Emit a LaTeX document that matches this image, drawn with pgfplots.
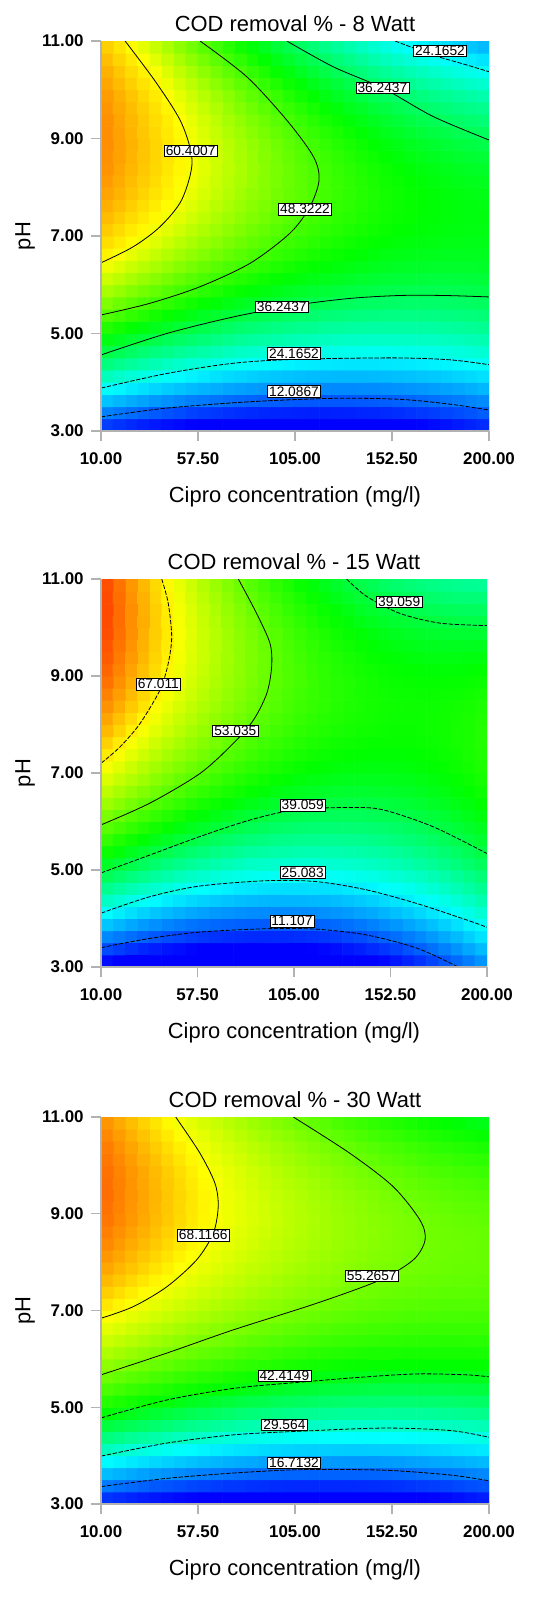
\documentclass[border=0pt]{standalone}
\usepackage{fontspec}
\setmainfont{Liberation Sans}
\usepackage{pgfplots}
\pgfplotsset{compat=1.18}
\usepgfplotslibrary{patchplots}
\usepackage{pgfplotstable}

% COD removal (%) estimated on a grid: x = Cipro (mg/l), p = pH, z = COD removal
\pgfplotstableread{
x p z
10 3 7.3
10 4 27.1
10 5 43.3
10 6 55.9
10 7 64.9
10 8 70.3
10 9 72.1
10 10 70.3
10 11 64.9
33.75 3 4.5
33.75 4 23.5
33.75 5 39.0
33.75 6 50.9
33.75 7 59.1
33.75 8 63.8
33.75 9 64.8
33.75 10 62.3
33.75 11 56.2
57.5 3 2.4
57.5 4 20.8
57.5 5 35.5
57.5 6 46.6
57.5 7 54.1
57.5 8 58.1
57.5 9 58.4
57.5 10 55.1
57.5 11 48.2
81.25 3 1.2
81.25 4 18.8
81.25 5 32.7
81.25 6 43.1
81.25 7 49.9
81.25 8 53.1
81.25 9 52.7
81.25 10 48.7
81.25 11 41.1
105 3 0.7
105 4 17.6
105 5 30.8
105 6 40.5
105 7 46.5
105 8 48.9
105 9 47.8
105 10 43.0
105 11 34.7
128.75 3 1.0
128.75 4 17.1
128.75 5 29.6
128.75 6 38.6
128.75 7 43.9
128.75 8 45.6
128.75 9 43.7
128.75 10 38.2
128.75 11 29.1
152.5 3 2.1
152.5 4 17.5
152.5 5 29.3
152.5 6 37.5
152.5 7 42.0
152.5 8 43.0
152.5 9 40.4
152.5 10 34.1
152.5 11 24.3
176.25 3 4.0
176.25 4 18.6
176.25 5 29.7
176.25 6 37.1
176.25 7 41.0
176.25 8 41.2
176.25 9 37.8
176.25 10 30.9
176.25 11 20.3
200 3 6.7
200 4 20.6
200 5 30.9
200 6 37.6
200 7 40.7
200 8 40.2
200 9 36.1
200 10 28.4
200 11 17.1
}\dataA

\pgfplotstableread{
x p z
10 3 3.8
10 4 23.4
10 5 40.2
10 6 54.1
10 7 65.2
10 8 73.4
10 9 78.8
10 10 81.4
10 11 81.1
33.75 3 0.3
33.75 4 18.9
33.75 5 34.7
33.75 6 47.7
33.75 7 57.8
33.75 8 65.1
33.75 9 69.5
33.75 10 71.1
33.75 11 69.9
57.5 3 -1.8
57.5 4 15.9
57.5 5 30.7
57.5 6 42.7
57.5 7 51.9
57.5 8 58.2
57.5 9 61.7
57.5 10 62.3
57.5 11 60.1
81.25 3 -2.5
81.25 4 14.3
81.25 5 28.1
81.25 6 39.2
81.25 7 47.4
81.25 8 52.8
81.25 9 55.3
81.25 10 55.0
81.25 11 51.8
105 3 -1.7
105 4 14.1
105 5 27.0
105 6 37.1
105 7 44.3
105 8 48.7
105 9 50.3
105 10 49.0
105 11 44.9
128.75 3 0.5
128.75 4 15.3
128.75 5 27.3
128.75 6 36.4
128.75 7 42.7
128.75 8 46.2
128.75 9 46.8
128.75 10 44.5
128.75 11 39.5
152.5 3 4.2
152.5 4 18.1
152.5 5 29.1
152.5 6 37.2
152.5 7 42.6
152.5 8 45.0
152.5 9 44.7
152.5 10 41.5
152.5 11 35.5
176.25 3 9.3
176.25 4 22.2
176.25 5 32.2
176.25 6 39.4
176.25 7 43.8
176.25 8 45.3
176.25 9 44.0
176.25 10 39.9
176.25 11 32.9
200 3 15.8
200 4 27.8
200 5 36.9
200 6 43.1
200 7 46.5
200 8 47.1
200 9 44.8
200 10 39.7
200 11 31.7
}\dataB

\pgfplotstableread{
x p z
10 3 9.6
10 4 29.5
10 5 46.1
10 6 59.5
10 7 69.5
10 8 76.2
10 9 79.7
10 10 79.8
10 11 76.6
33.75 3 7.3
33.75 4 26.7
33.75 5 42.8
33.75 6 55.6
33.75 7 65.1
33.75 8 71.3
33.75 9 74.2
33.75 10 73.8
33.75 11 70.1
57.5 3 5.6
57.5 4 24.4
57.5 5 40.0
57.5 6 52.3
57.5 7 61.2
57.5 8 66.9
57.5 9 69.3
57.5 10 68.3
57.5 11 64.1
81.25 3 4.5
81.25 4 22.8
81.25 5 37.9
81.25 6 49.6
81.25 7 58.0
81.25 8 63.1
81.25 9 65.0
81.25 10 63.5
81.25 11 58.7
105 3 4.0
105 4 21.8
105 5 36.3
105 6 47.5
105 7 55.4
105 8 60.0
105 9 61.3
105 10 59.3
105 11 54.0
128.75 3 4.2
128.75 4 21.4
128.75 5 35.4
128.75 6 46.0
128.75 7 53.4
128.75 8 57.5
128.75 9 58.2
128.75 10 55.7
128.75 11 49.8
152.5 3 4.9
152.5 4 21.6
152.5 5 35.1
152.5 6 45.2
152.5 7 52.0
152.5 8 55.6
152.5 9 55.8
152.5 10 52.7
152.5 11 46.3
176.25 3 6.3
176.25 4 22.5
176.25 5 35.4
176.25 6 45.0
176.25 7 51.3
176.25 8 54.2
176.25 9 53.9
176.25 10 50.3
176.25 11 43.4
200 3 8.3
200 4 23.9
200 5 36.3
200 6 45.3
200 7 51.1
200 8 53.6
200 9 52.7
200 10 48.6
200 11 41.1
}\dataC

\tikzset{
  clabel/.style={draw=black, fill=white, line width=0.3pt, inner xsep=0.8pt, inner ysep=0.5pt, font=\fontsize{6.9}{7}\selectfont},
}

\pgfplotsset{
  colormap={codA}{rgb255(0pt)=(0,0,255) rgb255(15pt)=(0,0,255) rgb255(34pt)=(0,255,255) rgb255(52pt)=(0,255,0) rgb255(70pt)=(255,255,0) rgb255(95pt)=(255,0,0)},
  colormap={codB}{rgb255(0pt)=(0,0,255) rgb255(15pt)=(0,0,255) rgb255(35pt)=(0,255,255) rgb255(54pt)=(0,255,0) rgb255(76pt)=(255,255,0) rgb255(96pt)=(255,0,0)},
  colormap={codC}{rgb255(0pt)=(0,0,255) rgb255(18pt)=(0,0,255) rgb255(37pt)=(0,255,255) rgb255(54pt)=(0,255,0) rgb255(78pt)=(255,255,0) rgb255(98pt)=(255,0,0)},
  cmpanel/.style={
    scale only axis,
    xmin=10, xmax=200, ymin=3, ymax=11,
    xtick={10,57.5,105,152.5,200},
    xticklabels={10.00,57.50,105.00,152.50,200.00},
    ytick={3,5,7,9,11},
    yticklabels={3.00,5.00,7.00,9.00,11.00},
    axis x line*=bottom, axis y line*=left,
    axis line style={gray!60, line width=0.6pt},
    tick style={gray!60, line width=0.6pt},
    tick align=outside, major tick length=5bp,
    ticklabel style={font=\fontsize{8.5}{9}\selectfont\bfseries},
    xticklabel style={anchor=north, inner sep=0pt, yshift=-5.5bp},
    yticklabel style={anchor=east, inner sep=0pt, xshift=-3.5bp},
    xlabel={Cipro concentration (mg/l)}, ylabel={pH},
    label style={font=\fontsize{11}{12}\selectfont},
    xlabel style={at={([yshift=-33bp]axis description cs:0.5,0)}, anchor=center},
    ylabel style={at={([xshift=-38bp]axis description cs:0,0.5)}, anchor=center},
    title style={font=\fontsize{11}{12}\selectfont, at={([yshift=2.5bp]axis description cs:0.5,1)}, anchor=center},
    point meta min=-10,
    axis on top,
  },
  % biquadratic patches over the 9 x 9 grid (row index = 9*xindex + pHindex)
  field/.style={patch, patch type=biquadratic, patch refines=3, shader=flat, point meta=explicit,
    table/row sep=\\,
    patch table={
0 18 20 2 9 19 11 1 10\\
2 20 22 4 11 21 13 3 12\\
4 22 24 6 13 23 15 5 14\\
6 24 26 8 15 25 17 7 16\\
18 36 38 20 27 37 29 19 28\\
20 38 40 22 29 39 31 21 30\\
22 40 42 24 31 41 33 23 32\\
24 42 44 26 33 43 35 25 34\\
36 54 56 38 45 55 47 37 46\\
38 56 58 40 47 57 49 39 48\\
40 58 60 42 49 59 51 41 50\\
42 60 62 44 51 61 53 43 52\\
54 72 74 56 63 73 65 55 64\\
56 74 76 58 65 75 67 57 66\\
58 76 78 60 67 77 69 59 68\\
60 78 80 62 69 79 71 61 70\\
}},
  cline/.style={black, line width=0.4pt, smooth, tension=0.5},
  cdash/.style={black, line width=0.4pt, smooth, tension=0.5, dash pattern=on 2.2bp off 0.8bp},
}

\begin{document}
\begin{tikzpicture}
\path[use as bounding box] (0,0) rectangle (271.5bp,-800.5bp);

% ---------------- 8 Watt ----------------
\begin{axis}[cmpanel, at={(50.5bp,-215.5bp)}, anchor=south west, width=194bp, height=195bp,
  colormap name=codA, point meta max=85,
  title={COD removal \% - 8 Watt}]
\addplot[field] table[x=x, y=p, meta=z] {\dataA};
\addplot[cline] coordinates {(21.8,11) (37.3,10.13) (49.5,9.31) (54.6,8.52) (49.5,7.74) (38.9,7.19) (25.8,6.78) (10,6.45)};
\addplot[cline] coordinates {(58.5,11) (81.3,10.27) (100.9,9.38) (114,8.63) (116.8,8.15) (112.3,7.6) (102.6,7.06) (83,6.44) (58.5,5.96) (34,5.62) (10,5.38)};
\addplot[cline] coordinates {(101,11) (123.8,10.47) (148.2,10.03) (172.7,9.45) (200,8.97)};
\addplot[cdash] coordinates {(154,11) (172.7,10.71) (189,10.51) (200,10.37)};
\addplot[cline] coordinates {(10,4.56) (42.2,5.0) (74.8,5.34) (105,5.58) (132,5.72) (156.4,5.78) (178,5.78) (200,5.75)};
\addplot[cdash] coordinates {(10,3.88) (42.2,4.18) (74.8,4.39) (105,4.47) (153,4.5) (180.9,4.46) (200,4.36)};
\addplot[cdash] coordinates {(10,3.29) (42.2,3.47) (83,3.60) (123.8,3.67) (156.4,3.65) (180.9,3.55) (200,3.43)};
\node[clabel] at (axis cs:176,10.80) {24.1652};
\node[clabel] at (axis cs:147.8,10.04) {36.2437};
\node[clabel] at (axis cs:53.9,8.75) {60.4007};
\node[clabel] at (axis cs:109.9,7.55) {48.3222};
\node[clabel] at (axis cs:98.5,5.55) {36.2437};
\node[clabel] at (axis cs:104.5,4.59) {24.1652};
\node[clabel] at (axis cs:104.5,3.81) {12.0867};
\end{axis}

% ---------------- 15 Watt ----------------
\begin{axis}[cmpanel, at={(50.5bp,-483.5bp)}, anchor=south west, width=193bp, height=194bp,
  colormap name=codB, point meta max=86,
  title={COD removal \% - 15 Watt}]
\addplot[field] table[x=x, y=p, meta=z] {\dataB};
\addplot[cdash] coordinates {(39.9,11) (43.1,10.5) (44.8,9.81) (43.1,9.26) (39,8.71) (29.2,8.02) (19.4,7.54) (10,7.2)};
\addplot[cline] coordinates {(77.6,11) (86.6,10.29) (93.2,9.67) (94,9.19) (91.6,8.64) (85,8.09) (75.1,7.61) (58.7,6.99) (34.1,6.38) (10,5.93)};
\addplot[cdash] coordinates {(130.9,11) (140.8,10.64) (157.2,10.29) (176.9,10.09) (200,10.04)};
\addplot[cdash] coordinates {(10,4.94) (34.1,5.31) (58.7,5.69) (83.3,6.03) (105.5,6.24) (132.6,6.29) (148.9,6.24) (173.6,5.89) (200,5.34)};
\addplot[cdash] coordinates {(10,4.11) (34.1,4.45) (58.7,4.67) (91.6,4.78) (116.2,4.76) (140.8,4.59) (165.4,4.31) (190,3.97) (200,3.82)};
\addplot[cdash] coordinates {(10,3.40) (34.1,3.59) (58.7,3.72) (91.6,3.79) (116.2,3.78) (140.8,3.66) (165.4,3.39) (185.9,3.0)};
\node[clabel] at (axis cs:156.8,10.53) {39.059};
\node[clabel] at (axis cs:38.2,8.83) {67.011};
\node[clabel] at (axis cs:76.1,7.87) {53.035};
\node[clabel] at (axis cs:109.3,6.34) {39.059};
\node[clabel] at (axis cs:109.3,4.95) {25.083};
\node[clabel] at (axis cs:104,3.95) {11.107};
\end{axis}

% ---------------- 30 Watt ----------------
\begin{axis}[cmpanel, at={(50.5bp,-752bp)}, anchor=south west, width=194bp, height=193.5bp,
  colormap name=codC, point meta max=88,
  title={COD removal \% - 30 Watt}]
\addplot[field] table[x=x, y=p, meta=z] {\dataC};
\addplot[cline] coordinates {(46.6,11) (58.5,10.25) (65.8,9.63) (67.4,9.15) (65,8.60) (56.9,8.05) (42.2,7.49) (25.8,7.08) (10,6.84)};
\addplot[cline] coordinates {(104.2,11) (131.9,10.25) (153.1,9.56) (166.2,8.87) (168.7,8.46) (163,8.05) (146.6,7.63) (115.6,7.15) (74.8,6.60) (42.2,6.12) (10,5.67)};
\addplot[cdash] coordinates {(10,4.78) (42.2,5.15) (74.8,5.39) (105,5.51) (140.1,5.63) (165.4,5.69) (189.1,5.67) (200,5.63)};
\addplot[cdash] coordinates {(10,3.99) (42.2,4.26) (74.8,4.43) (105,4.50) (148.2,4.57) (180.9,4.52) (200,4.38)};
\addplot[cdash] coordinates {(10,3.36) (42.2,3.53) (74.8,3.64) (107.4,3.71) (148.2,3.70) (180.9,3.60) (200,3.48)};
\node[clabel] at (axis cs:60.1,8.56) {68.1166};
\node[clabel] at (axis cs:142.6,7.72) {55.2657};
\node[clabel] at (axis cs:99.8,5.65) {42.4149};
\node[clabel] at (axis cs:99.8,4.64) {29.564};
\node[clabel] at (axis cs:104.5,3.85) {16.7132};
\end{axis}
\end{tikzpicture}
\end{document}
